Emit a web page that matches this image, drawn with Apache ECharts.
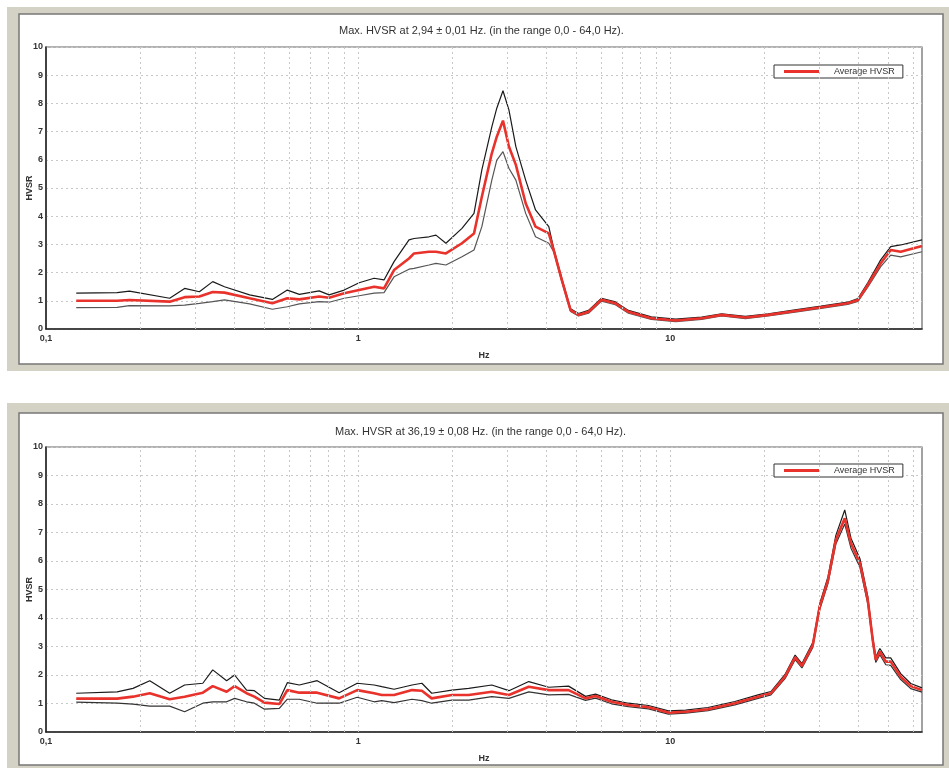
<!DOCTYPE html>
<html>
<head>
<meta charset="utf-8">
<script src="https://cdn.jsdelivr.net/npm/echarts@6/dist/echarts.min.js"></script>
<style>
html,body{margin:0;padding:0;background:#fff;}
#c{width:949px;height:768px;}
</style>
</head>
<body>
<div id="c"></div>
<script>
// ---------- DATA ----------
const titleTop = "Max. HVSR at 2,94 \u00b1 0,01 Hz. (in the range 0,0 - 64,0 Hz).";
const titleBottom = "Max. HVSR at 36,19 \u00b1 0,08 Hz. (in the range 0,0 - 64,0 Hz).";
const legendName = "Average HVSR";
const xAxisName = "Hz";
const yAxisName = "HVSR";
const xGridLines = [0.2,0.3,0.4,0.5,0.6,0.7,0.8,0.9,1,2,3,4,5,6,7,8,9,10,20,30,40,50,60];

const topFreq  = [0.125,0.169,0.185,0.249,0.278,0.310,0.342,0.373,0.449,0.531,0.593,0.648,0.750,0.807,0.902,1.007,1.125,1.21,1.303,1.455,1.51,1.686,1.775,1.91,2.15,2.35,2.49,2.68,2.78,2.91,3.04,3.20,3.44,3.70,4.08,4.23,4.49,4.79,5.08,5.47,6.02,6.67,7.34,8.69,10.4,12.6,14.6,17.4,20.6,25.1,30.4,37.0,39.9,42.9,47.2,50.8,54.7,64];
const topAvg   = [1.00,1.00,1.03,0.97,1.13,1.15,1.31,1.29,1.09,0.91,1.09,1.05,1.15,1.11,1.27,1.38,1.50,1.44,2.09,2.50,2.68,2.74,2.74,2.68,3.04,3.39,4.69,6.23,6.82,7.39,6.47,5.82,4.46,3.63,3.39,2.80,1.74,0.67,0.50,0.61,1.04,0.91,0.61,0.38,0.30,0.38,0.50,0.41,0.50,0.64,0.77,0.91,1.03,1.56,2.33,2.80,2.74,2.94];
const topUpper = [1.27,1.29,1.34,1.09,1.44,1.32,1.68,1.50,1.21,1.05,1.38,1.23,1.35,1.21,1.38,1.64,1.80,1.74,2.39,3.16,3.21,3.27,3.33,3.04,3.57,4.10,5.64,7.17,7.83,8.45,7.77,6.47,5.28,4.22,3.63,2.86,1.80,0.72,0.55,0.66,1.09,0.96,0.66,0.43,0.35,0.42,0.54,0.45,0.54,0.68,0.81,0.95,1.08,1.64,2.45,2.92,2.98,3.16];
const topLower = [0.76,0.77,0.83,0.82,0.85,0.91,0.97,1.03,0.89,0.70,0.79,0.89,0.97,0.95,1.09,1.18,1.27,1.29,1.85,2.12,2.15,2.27,2.33,2.27,2.56,2.80,3.63,5.28,5.99,6.29,5.70,5.28,4.10,3.27,3.04,2.74,1.68,0.62,0.46,0.56,0.99,0.86,0.56,0.34,0.26,0.34,0.46,0.37,0.46,0.60,0.73,0.87,0.98,1.48,2.21,2.62,2.56,2.74];

const botFreq  = [0.125,0.169,0.190,0.215,0.249,0.278,0.318,0.342,0.379,0.402,0.439,0.465,0.501,0.559,0.593,0.648,0.739,0.869,0.993,1.125,1.19,1.303,1.488,1.60,1.72,1.996,2.26,2.68,3.04,3.52,4.08,4.72,5.35,5.76,6.48,7.34,8.51,9.86,11.2,13.2,16.1,19.1,21.0,23.3,25.1,26.4,28.6,30.1,32.0,33.9,36.2,37.9,40.5,42.9,44.5,45.5,46.9,49.0,50.8,54.7,58.9,64];
const botAvg   = [1.17,1.17,1.24,1.36,1.15,1.24,1.38,1.61,1.41,1.61,1.36,1.24,1.03,0.98,1.47,1.38,1.38,1.18,1.47,1.36,1.30,1.30,1.47,1.45,1.18,1.30,1.30,1.41,1.30,1.59,1.47,1.47,1.18,1.26,1.06,0.95,0.87,0.68,0.71,0.80,1.01,1.24,1.36,1.94,2.62,2.32,3.05,4.40,5.33,6.74,7.50,6.62,5.92,4.63,3.23,2.53,2.82,2.47,2.47,1.94,1.61,1.47];
const botUpper = [1.36,1.41,1.53,1.80,1.36,1.65,1.71,2.18,1.80,2.00,1.47,1.45,1.18,1.12,1.73,1.65,1.80,1.38,1.71,1.65,1.59,1.50,1.65,1.71,1.36,1.47,1.53,1.65,1.45,1.77,1.57,1.61,1.25,1.33,1.13,1.01,0.93,0.74,0.77,0.86,1.07,1.30,1.42,2.02,2.70,2.40,3.14,4.50,5.45,6.90,7.79,6.80,6.08,4.76,3.33,2.63,2.93,2.60,2.60,2.05,1.70,1.55];
const botLower = [1.05,1.01,0.98,0.91,0.91,0.71,1.01,1.06,1.06,1.18,1.06,1.01,0.80,0.83,1.15,1.15,1.01,1.01,1.22,1.06,1.10,1.03,1.15,1.10,1.01,1.12,1.12,1.24,1.18,1.41,1.30,1.32,1.11,1.19,0.99,0.89,0.81,0.63,0.66,0.75,0.95,1.18,1.30,1.87,2.54,2.25,2.97,4.30,5.22,6.60,7.30,6.45,5.78,4.50,3.13,2.44,2.71,2.36,2.34,1.84,1.52,1.40];

// ---------- CHART ----------
const chart = echarts.init(document.getElementById('c'), null, {renderer: 'canvas'});
const pairs = (xs, ys) => xs.map((x, i) => [x, ys[i]]);
const FONT = 'Liberation Sans, Arial, sans-serif';
const TXT = '#333';

function fmtX(v) {
  const l = Math.log10(v);
  if (Math.abs(l - Math.round(l)) > 1e-6) return '';
  const p = Math.round(l);
  const n = Math.pow(10, p);
  return (p < 0 ? n.toFixed(-p) : String(n)).replace('.', ',');
}

function xAxisDef(gi) {
  return {
    type: 'log', logBase: 10, gridIndex: gi, min: 0.1, max: 64,
    name: xAxisName, nameLocation: 'middle', nameGap: 22, nameMoveOverlap: false,
    nameTextStyle: {fontSize: 9, fontWeight: 'bold', color: TXT, fontFamily: FONT},
    axisLine: {show: true, onZero: false, lineStyle: {color: '#222', width: 1.5}},
    axisTick: {show: false},
    splitLine: {show: false},
    minorTick: {show: false},
    axisLabel: {fontSize: 9, fontWeight: 'bold', color: TXT, fontFamily: FONT, margin: 5,
      showMaxLabel: false, formatter: fmtX}
  };
}
function yAxisDef(gi) {
  return {
    type: 'value', gridIndex: gi, min: 0, max: 10, interval: 1,
    name: yAxisName, nameLocation: 'middle', nameGap: 12, nameMoveOverlap: false,
    nameTextStyle: {fontSize: 9, fontWeight: 'bold', color: TXT, fontFamily: FONT},
    axisLine: {show: true, lineStyle: {color: '#222', width: 1.5}},
    axisTick: {show: false},
    splitLine: {show: true, lineStyle: {type: [2, 3], color: '#c8c8c8', width: 1}},
    axisLabel: {fontSize: 9, fontWeight: 'bold', color: TXT, fontFamily: FONT, margin: 3}
  };
}
function gridMarks() {
  return {
    silent: true, symbol: ['none', 'none'], animation: false,
    label: {show: false},
    lineStyle: {type: [2, 3], color: '#c8c8c8', width: 1},
    emphasis: {disabled: true},
    data: xGridLines.map(v => ({xAxis: v}))
  };
}
function seriesSet(gi, f, up, lo, avg, upColor, loColor) {
  const base = {type: 'line', xAxisIndex: gi, yAxisIndex: gi, showSymbol: false, symbol: 'none',
    animation: false, silent: true};
  return [
    Object.assign({}, base, {name: 'lower' + gi, data: pairs(f, lo), z: 2,
      lineStyle: {color: loColor, width: 1.2}, markLine: gridMarks()}),
    Object.assign({}, base, {name: 'upper' + gi, data: pairs(f, up), z: 3,
      lineStyle: {color: upColor, width: 1.2}}),
    Object.assign({}, base, {name: legendName, data: pairs(f, avg), z: 4,
      lineStyle: {color: '#e8322b', width: 2.6}, itemStyle: {color: '#e8322b'}})
  ];
}

function legendDef(top) {
  return {
    left: 774, top: top, orient: 'horizontal',
    data: [{name: legendName, icon: 'rect'}],
    itemWidth: 35, itemHeight: 3,
    backgroundColor: '#fff', borderColor: '#333', borderWidth: 1, borderRadius: 0,
    padding: [2, 8, 2, 10],
    selectedMode: false,
    textStyle: {fontSize: 9, color: TXT, fontFamily: FONT, padding: [0, 0, 0, 10]}
  };
}

const option = {
  backgroundColor: '#fff',
  animation: false,
  graphic: [
    {type: 'rect', shape: {x: 7, y: 7, width: 942, height: 364}, style: {fill: '#d4d1c5'}, z: -10},
    {type: 'rect', shape: {x: 19, y: 14, width: 924, height: 350}, style: {fill: '#fff', stroke: '#777', lineWidth: 1.5}, z: -9},
    {type: 'rect', shape: {x: 7, y: 403, width: 942, height: 365}, style: {fill: '#d4d1c5'}, z: -10},
    {type: 'rect', shape: {x: 19, y: 413, width: 924, height: 352}, style: {fill: '#fff', stroke: '#777', lineWidth: 1.5}, z: -9}
  ],
  title: [
    {text: titleTop, left: 339, top: 25, padding: 0,
      textStyle: {fontSize: 11, fontWeight: 'normal', color: TXT, fontFamily: FONT}},
    {text: titleBottom, left: 335, top: 426, padding: 0,
      textStyle: {fontSize: 11, fontWeight: 'normal', color: TXT, fontFamily: FONT}}
  ],
  legend: [legendDef(65), legendDef(464)],
  grid: [
    {left: 46, top: 47, width: 876, height: 282, show: true, borderColor: '#666', borderWidth: 1.2, backgroundColor: 'transparent'},
    {left: 46, top: 447, width: 876, height: 285, show: true, borderColor: '#666', borderWidth: 1.2, backgroundColor: 'transparent'}
  ],
  xAxis: [xAxisDef(0), xAxisDef(1)],
  yAxis: [yAxisDef(0), yAxisDef(1)],
  series: [].concat(
    seriesSet(0, topFreq, topUpper, topLower, topAvg, '#1a1a1a', '#555'),
    seriesSet(1, botFreq, botUpper, botLower, botAvg, '#1a1a1a', '#333')
  )
};
chart.setOption(option);
</script>
</body>
</html>
